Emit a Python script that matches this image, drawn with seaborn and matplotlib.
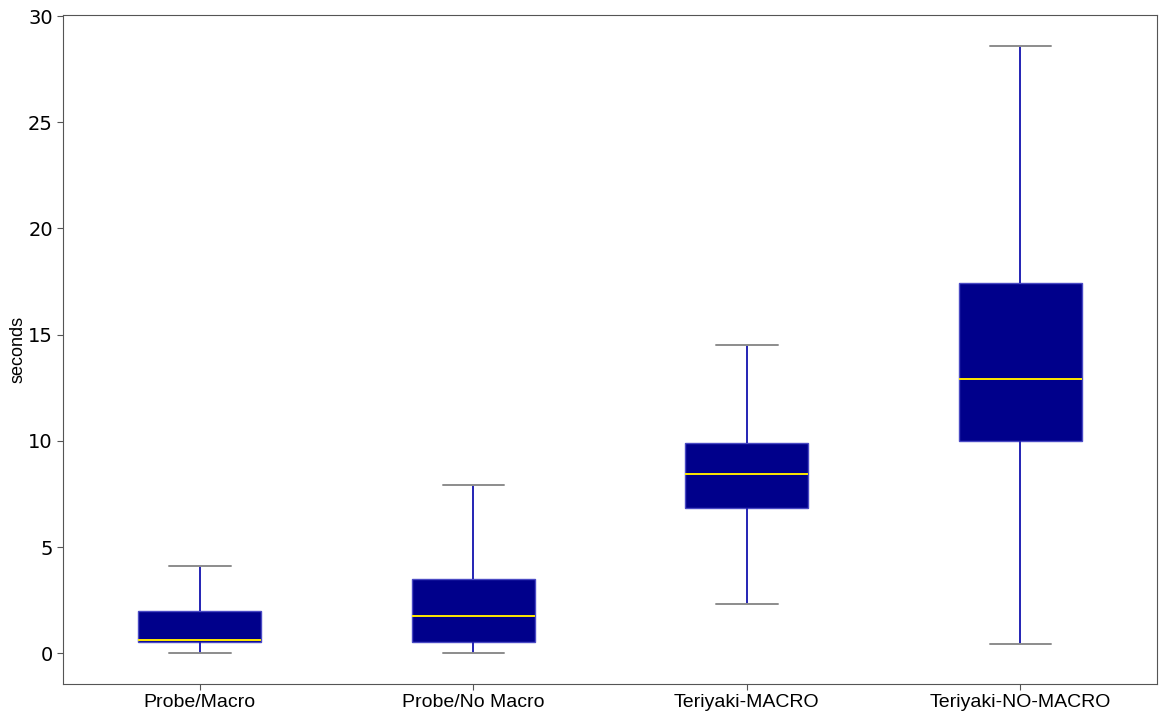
import matplotlib
matplotlib.use("Agg")
import matplotlib.pyplot as plt
import pandas as pd
import seaborn as sns

# five-number summaries (min, q1, median, q3, max)
groups = ["Probe/Macro", "Probe/No Macro", "Teriyaki-MACRO", "Teriyaki-NO-MACRO"]
probe_macro = [0.0, 0.52, 0.63, 2.0, 4.1]
probe_no_macro = [0.0, 0.52, 1.74, 3.5, 7.92]
teriyaki_macro = [2.3, 6.82, 8.42, 9.92, 14.5]
teriyaki_no_macro = [0.42, 9.97, 12.9, 17.45, 28.6]
y_ticks = [0, 5, 10, 15, 20, 25, 30]

series = [probe_macro, probe_no_macro, teriyaki_macro, teriyaki_no_macro]
df = pd.DataFrame(
    [(g, v) for g, vals in zip(groups, series) for v in vals],
    columns=["method", "seconds"],
)

sns.set_style("ticks")

fig = plt.figure(figsize=(11.7, 7.14), dpi=100)
ax = fig.add_axes([0.054, 0.042, 0.935, 0.937])

sns.boxplot(
    data=df, x="method", y="seconds", order=groups, ax=ax,
    width=0.45, whis=(0, 100), saturation=1, color="#00008b",
    boxprops={"facecolor": "#00008b", "edgecolor": "#4a4ac4", "linewidth": 1},
    whiskerprops={"color": "#2424b4", "linewidth": 1.4},
    capprops={"color": "#8c8c8c", "linewidth": 1.4},
    medianprops={"color": "#ffea00", "linewidth": 1.4},
    showfliers=False,
)

ax.set_ylim(-1.45, 30.05)
ax.set_yticks(y_ticks)
ax.set_yticklabels([str(t) for t in y_ticks], fontsize=14, family="DejaVu Sans")
ax.set_xticks(range(len(groups)))
ax.set_xticklabels(groups, fontsize=14, family="Liberation Sans")
ax.set_xlabel("")
ax.set_ylabel("seconds", fontsize=13, family="Liberation Sans", color="black", labelpad=1)
for side in ["top", "right", "left", "bottom"]:
    ax.spines[side].set_visible(True)
    ax.spines[side].set_color("#555555")
ax.tick_params(axis="both", colors="#555555", labelcolor="black", length=4)

fig.savefig("out.png", dpi=100)
